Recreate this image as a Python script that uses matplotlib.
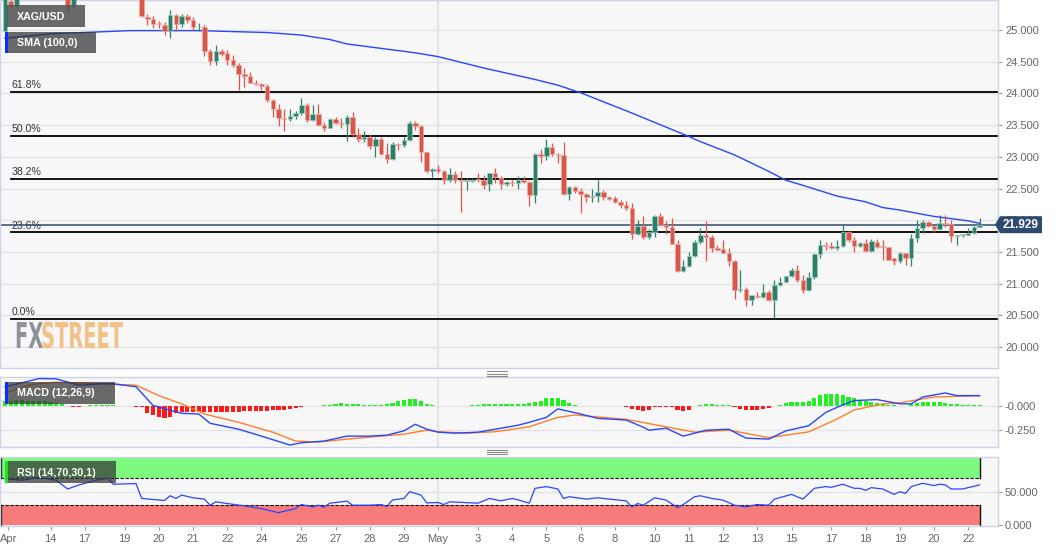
import matplotlib
matplotlib.use('Agg')
import matplotlib.pyplot as plt
import numpy as np
import matplotlib.transforms as mtransforms
from matplotlib.patches import Rectangle, Polygon
from matplotlib.lines import Line2D
from matplotlib.patheffects import AbstractPathEffect

plt.rcParams['font.family'] = ['Liberation Sans', 'DejaVu Sans']

# ---------------- data (4H candles, XAG/USD) ----------------
opens = [24.99, 25.45, 25.40, 25.58, 25.66, 25.74, 25.70, 25.78, 25.85, 25.75,
         25.65, 25.56, 25.39, 25.58, 25.70, 25.84, 25.96, 26.04, 26.15, 26.02,
         25.90, 25.86, 25.80, 25.76, 25.66, 25.21, 25.17, 25.11, 25.08, 24.99,
         25.23, 25.09, 25.22, 25.16, 25.04, 25.05, 24.67, 24.51, 24.67, 24.63,
         24.52, 24.44, 24.31, 24.28, 24.17, 24.15, 24.12, 23.89, 23.75, 23.61,
         23.60, 23.65, 23.69, 23.81, 23.58, 23.67, 23.50, 23.46, 23.60, 23.54,
         23.51, 23.62, 23.36, 23.28, 23.32, 23.17, 23.28, 23.05, 22.97, 23.20,
         23.18, 23.27, 23.54, 23.49, 23.08, 22.78, 22.80, 22.78, 22.63, 22.73,
         22.64, 22.62, 22.62, 22.64, 22.63, 22.57, 22.74, 22.67, 22.57, 22.61,
         22.59, 22.64, 22.61, 22.40, 23.05, 23.02, 23.15, 23.05, 23.03, 22.41,
         22.53, 22.46, 22.41, 22.36, 22.38, 22.45, 22.37, 22.35, 22.28, 22.24,
         22.19, 21.79, 21.91, 21.73, 21.82, 22.06, 21.92, 21.89, 21.63, 21.20,
         21.27, 21.44, 21.65, 21.76, 21.74, 21.56, 21.54, 21.49, 21.36, 20.90,
         20.92, 20.74, 20.81, 20.79, 20.87, 20.74, 20.98, 21.03, 21.12, 21.22,
         21.06, 20.90, 21.11, 21.47, 21.61, 21.59, 21.56, 21.59, 21.81, 21.69,
         21.59, 21.64, 21.52, 21.66, 21.59, 21.57, 21.40, 21.35, 21.48, 21.40,
         21.72, 21.87, 21.97, 21.91, 21.86, 21.96, 21.94, 21.75, 21.77, 21.77,
         21.80, 21.90]
highs = [25.62, 25.47, 25.63, 25.72, 25.80, 25.86, 25.82, 25.92, 25.90, 25.80,
         25.70, 25.60, 25.62, 25.74, 25.88, 26.02, 26.10, 26.23, 26.20, 26.06,
         25.98, 25.95, 25.88, 25.82, 25.70, 25.26, 25.22, 25.14, 25.13, 25.31,
         25.26, 25.26, 25.25, 25.20, 25.11, 25.08, 24.70, 24.76, 24.70, 24.68,
         24.60, 24.48, 24.40, 24.33, 24.21, 24.17, 24.15, 23.91, 23.84, 23.75,
         23.75, 23.73, 23.92, 23.85, 23.82, 23.83, 23.55, 23.61, 23.63, 23.61,
         23.66, 23.71, 23.46, 23.41, 23.36, 23.31, 23.32, 23.22, 23.24, 23.21,
         23.32, 23.56, 23.56, 23.50, 23.08, 22.82, 22.87, 22.79, 22.82, 22.77,
         22.77, 22.66, 22.67, 22.75, 22.71, 22.75, 22.83, 22.70, 22.62, 22.63,
         22.69, 22.69, 22.62, 23.06, 23.12, 23.28, 23.21, 23.06, 23.24, 22.54,
         22.54, 22.51, 22.43, 22.50, 22.63, 22.48, 22.38, 22.38, 22.32, 22.31,
         22.27, 22.00, 22.06, 21.86, 22.08, 22.11, 21.99, 22.03, 21.68, 21.38,
         21.50, 21.68, 21.87, 21.98, 21.77, 21.61, 21.68, 21.56, 21.37, 21.22,
         20.95, 20.76, 20.86, 20.99, 20.90, 21.06, 21.10, 21.12, 21.24, 21.29,
         21.14, 21.19, 21.48, 21.68, 21.66, 21.66, 21.68, 21.94, 21.83, 21.74,
         21.65, 21.70, 21.70, 21.71, 21.69, 21.58, 21.41, 21.50, 21.49, 21.79,
         22.00, 22.00, 21.98, 21.92, 22.08, 22.08, 22.00, 21.77, 21.78, 21.87,
         21.91, 22.03]
lows = [24.97, 25.37, 25.36, 25.54, 25.60, 25.68, 25.62, 25.72, 25.70, 25.60,
        25.52, 25.30, 25.37, 25.55, 25.66, 25.80, 25.90, 26.00, 25.98, 25.84,
        25.80, 25.76, 25.70, 25.62, 25.20, 25.08, 25.03, 25.03, 24.92, 24.87,
        24.98, 25.04, 25.11, 25.00, 24.99, 24.59, 24.45, 24.44, 24.59, 24.45,
        24.42, 24.05, 24.10, 24.16, 24.13, 24.05, 23.87, 23.63, 23.48, 23.40,
        23.57, 23.59, 23.66, 23.55, 23.56, 23.48, 23.41, 23.45, 23.51, 23.46,
        23.25, 23.32, 23.24, 23.24, 23.13, 22.99, 23.03, 22.90, 22.95, 23.11,
        23.15, 23.25, 23.43, 22.92, 22.74, 22.68, 22.74, 22.57, 22.61, 22.59,
        22.13, 22.47, 22.60, 22.61, 22.50, 22.46, 22.58, 22.50, 22.54, 22.54,
        22.50, 22.58, 22.22, 22.27, 22.91, 22.95, 23.01, 22.90, 22.40, 22.32,
        22.43, 22.11, 22.28, 22.29, 22.28, 22.32, 22.32, 22.27, 22.20, 22.16,
        21.70, 21.77, 21.71, 21.71, 21.73, 21.91, 21.78, 21.62, 21.19, 21.19,
        21.26, 21.42, 21.63, 21.35, 21.50, 21.53, 21.48, 21.27, 20.75, 20.87,
        20.64, 20.66, 20.77, 20.78, 20.73, 20.45, 20.97, 21.03, 21.11, 21.03,
        20.85, 20.89, 21.07, 21.41, 21.53, 21.54, 21.53, 21.58, 21.66, 21.50,
        21.58, 21.50, 21.50, 21.56, 21.38, 21.37, 21.29, 21.33, 21.29, 21.28,
        21.66, 21.80, 21.89, 21.81, 21.85, 21.90, 21.66, 21.61, 21.74, 21.76,
        21.79, 21.89]
closes = [25.56, 25.40, 25.58, 25.66, 25.74, 25.70, 25.78, 25.85, 25.75, 25.65,
          25.56, 25.39, 25.58, 25.70, 25.84, 25.96, 26.04, 26.15, 26.02, 25.90,
          25.86, 25.80, 25.76, 25.66, 25.22, 25.17, 25.10, 25.09, 24.99, 25.23,
          25.09, 25.22, 25.16, 25.05, 25.05, 24.67, 24.51, 24.67, 24.62, 24.52,
          24.44, 24.31, 24.28, 24.17, 24.15, 24.12, 23.89, 23.75, 23.61, 23.59,
          23.64, 23.69, 23.81, 23.58, 23.67, 23.50, 23.46, 23.60, 23.54, 23.51,
          23.62, 23.36, 23.28, 23.32, 23.17, 23.28, 23.05, 22.97, 23.20, 23.18,
          23.27, 23.54, 23.49, 23.08, 22.78, 22.80, 22.78, 22.63, 22.73, 22.63,
          22.62, 22.62, 22.64, 22.63, 22.56, 22.74, 22.68, 22.57, 22.61, 22.59,
          22.64, 22.61, 22.40, 23.05, 23.02, 23.15, 23.04, 23.03, 22.41, 22.53,
          22.46, 22.42, 22.36, 22.38, 22.45, 22.37, 22.34, 22.28, 22.24, 22.19,
          21.79, 21.91, 21.73, 21.82, 22.06, 21.92, 21.90, 21.63, 21.20, 21.27,
          21.44, 21.65, 21.76, 21.74, 21.56, 21.53, 21.49, 21.36, 20.90, 20.92,
          20.74, 20.82, 20.79, 20.87, 20.74, 20.98, 21.03, 21.12, 21.22, 21.06,
          20.90, 21.11, 21.47, 21.61, 21.60, 21.56, 21.59, 21.81, 21.69, 21.59,
          21.64, 21.52, 21.67, 21.58, 21.57, 21.38, 21.35, 21.48, 21.40, 21.72,
          21.87, 21.97, 21.91, 21.86, 21.96, 21.94, 21.75, 21.77, 21.78, 21.80,
          21.90, 21.929]

sma_idx = [0, 8, 22, 34, 46, 52, 57, 60, 72, 76, 84, 93, 97, 101, 110, 120, 122,
           128, 134, 137, 140, 146, 151, 154, 157, 163, 169, 171]
sma_val = [24.87, 24.94, 24.99, 24.99, 24.96, 24.92, 24.85, 24.78, 24.64, 24.58,
           24.40, 24.22, 24.13, 24.01, 23.69, 23.32, 23.24, 23.03, 22.77, 22.63,
           22.55, 22.38, 22.29, 22.20, 22.16, 22.06, 21.99, 21.95]

fib_levels = [24.02, 23.33, 22.65, 21.81, 20.44]
fib_labels = ['61.8%', '50.0%', '38.2%', '23.6%', '0.0%']

macd_idx = [0, 6, 9, 13, 17, 19, 23, 26, 31, 34, 36, 41, 45, 50, 52, 56, 60, 64,
            67, 70, 72, 74, 76, 79, 83, 86, 90, 92, 95, 97, 101, 104, 109, 112,
            113, 116, 119, 123, 127, 130, 134, 137, 141, 144, 147, 149, 153, 157,
            159, 161, 165, 167, 171]
macd_val = [0.188, 0.273, 0.27, 0.205, 0.22, 0.22, 0.19, 0.0, -0.079, -0.086,
            -0.18, -0.24, -0.31, -0.40, -0.377, -0.36, -0.31, -0.31, -0.30, -0.257,
            -0.19, -0.24, -0.27, -0.28, -0.27, -0.24, -0.20, -0.17, -0.12, -0.034,
            -0.086, -0.13, -0.147, -0.22, -0.25, -0.23, -0.31, -0.25, -0.24, -0.33,
            -0.34, -0.257, -0.205, -0.07, 0.007, 0.05, 0.06, 0.017, 0.017, 0.086,
            0.127, 0.10, 0.10]
signal_idx = [0, 5, 9, 17, 23, 27, 31, 35, 41, 47, 51, 55, 60, 64, 70, 74, 76, 81,
              86, 92, 97, 100, 109, 115, 121, 127, 134, 141, 146, 149, 154, 157,
              163, 171]
signal_val = [0.127, 0.216, 0.236, 0.22, 0.205, 0.10, 0.017, -0.086, -0.17, -0.27,
              -0.36, -0.37, -0.34, -0.32, -0.29, -0.25, -0.265, -0.28, -0.265,
              -0.215, -0.12, -0.096, -0.14, -0.205, -0.27, -0.25, -0.325, -0.267,
              -0.137, -0.045, 0.017, 0.027, 0.086, 0.10]
hist_val = [0.05, 0.05, 0.055, 0.055, 0.05, 0.05, 0.045, 0.045,
            0.035, 0.03, 0.02,
            -0.01, -0.017, -0.017, -0.01,
            0.01, 0.01, 0.01, 0.008, 0.005,
            -0.005, -0.01, -0.01, -0.015, -0.02,
            -0.08, -0.10, -0.12, -0.125, -0.12, -0.08, -0.07,
            -0.065, -0.065, -0.065, -0.07, -0.068, -0.065, -0.065, -0.063, -0.062,
            -0.062, -0.06, -0.06, -0.06, -0.058,
            -0.055, -0.05, -0.05, -0.045, -0.04, -0.03, -0.02, -0.01,
            -0.003, 0.0, 0.003,
            0.01, 0.02, 0.025, 0.02, 0.015, 0.012, 0.01, 0.01,
            0.008, 0.01, 0.015,
            0.03, 0.045, 0.06, 0.07, 0.07, 0.045, 0.02,
            0.003,
            -0.005, -0.008, -0.01, -0.01, -0.008, -0.005,
            0.002,
            0.01, 0.015, 0.018, 0.018, 0.015, 0.015, 0.018, 0.018, 0.015,
            0.03, 0.04, 0.05,
            0.075, 0.08, 0.08, 0.06,
            0.03, 0.01,
            -0.005, -0.008, -0.008, -0.008, -0.008, -0.008, -0.008, -0.01, -0.015,
            -0.04, -0.05, -0.06, -0.05,
            -0.02, -0.015, -0.015, -0.02,
            -0.05, -0.06, -0.05,
            -0.01,
            0.01, 0.012, 0.012, 0.01, 0.008, 0.003,
            -0.02, -0.04, -0.05, -0.05, -0.05, -0.04, -0.03, -0.01,
            0.01, 0.03, 0.04, 0.04, 0.035, 0.045, 0.08,
            0.11, 0.12, 0.12, 0.12, 0.11, 0.09,
            0.075, 0.06, 0.05, 0.04, 0.03, 0.02, 0.01, 0.005,
            -0.005, -0.005,
            0.02, 0.03, 0.04, 0.04, 0.04, 0.035, 0.03, 0.02,
            0.012, 0.006, 0.004, 0.003, 0.003]

rsi_idx = [0, 3, 6, 9, 11, 13, 16, 18, 19, 23, 24, 28, 29, 30, 31, 33, 35, 36, 37,
           39, 42, 45, 48, 51, 52, 54, 55, 56, 57, 60, 61, 64, 66, 67, 68, 70, 71,
           73, 74, 76, 77, 78, 83, 85, 87, 89, 90, 92, 93, 95, 97, 98, 99, 102,
           104, 106, 109, 110, 111, 112, 114, 116, 118, 119, 121, 122, 124, 126,
           128, 130, 132, 134, 135, 138, 140, 142, 144, 145, 147, 149, 150, 151,
           152, 154, 156, 157, 158, 159, 161, 163, 164, 165, 166, 168, 171]
rsi_val = [69, 67, 71, 67, 54, 60, 67, 70, 61, 62, 40, 37, 44, 40, 45, 41, 39, 30,
           35, 32.5, 29, 25, 19, 25, 31, 27.5, 30, 27, 33, 36, 30, 30, 31, 28, 37.7,
           40, 50, 45, 33.4, 34, 31, 35, 33, 40, 36.5, 40, 38, 33, 55, 57.5, 54, 40,
           42.6, 39, 41, 39, 36.5, 27.5, 32.5, 30, 41, 37.5, 26.5, 31, 42.6, 44, 40,
           37.5, 30, 27.5, 31, 30, 39, 46, 39, 55, 57.5, 56.5, 61, 55, 55, 52, 56,
           54, 46, 50, 47.5, 57.5, 62.4, 59, 61, 60, 54, 54, 60]

tick_pos = [0.6, 8, 14, 21, 27, 33, 39, 45, 52, 58, 64, 70, 76, 83, 89, 95, 101,
            107, 114, 120, 126, 132, 138, 145, 151, 157, 163, 169]
tick_lab = ['Apr', '14', '17', '19', '20', '21', '22', '24', '26', '27', '28', '29',
            'May', '3', '4', '5', '6', '8', '10', '11', '12', '13', '15', '17', '18',
            '19', '20', '22']

# ---------------- figure ----------------
W, H = 1060, 550
fig = plt.figure(figsize=(W / 100, H / 100), dpi=100, facecolor='white')
pixT = mtransforms.Affine2D().scale(1 / W, -1 / H).translate(0, 1) + fig.transFigure

def add_ax(x0, y0, x1, y1):
    return fig.add_axes([x0 / W, 1 - y1 / H, (x1 - x0) / W, (y1 - y0) / H])

ax = add_ax(0, 0, 998, 368)
axm = add_ax(0, 377, 998, 447)
axr = add_ax(0, 457, 998, 526)

XL = (-4.9 / 5.70, (998 - 4.9) / 5.70)
SPINE = '#cdd3e6'
BG = '#f7f7f7'
GRID = '#e3e3e3'
for a in (ax, axm, axr):
    a.set_facecolor(BG)
    a.set_xlim(*XL)
    for s in a.spines.values():
        s.set_color(SPINE)
        s.set_linewidth(1.0)
    a.yaxis.set_ticks_position('right')
    a.tick_params(axis='y', left=False, labelleft=False, right=True, labelright=True,
                  direction='out', length=3, width=0.8, color='#9a9a9a',
                  labelcolor='#666666', labelsize=8, pad=2)
    a.tick_params(axis='x', bottom=False, labelbottom=False)
    a.axvline(tick_pos[tick_lab.index('May')], color=GRID, lw=1.4, zorder=0)

# ---- main price panel ----
ax.set_ylim(19.669, 25.473)
yt = np.arange(20.0, 25.01, 0.5)
ax.set_yticks(yt)
ax.set_yticklabels([f'{v:.3f}' for v in yt])
for v in yt:
    ax.axhline(v, color=GRID, lw=1.0, zorder=0)

for lvl, lab in zip(fib_levels, fib_labels):
    ax.axhline(lvl, xmin=11 / 998, xmax=1, color='black', lw=1.3, zorder=1)
    ax.annotate(lab, xy=(12 / 998, lvl), xycoords=('axes fraction', 'data'),
                xytext=(0, 1.2), textcoords='offset points', fontsize=7.6,
                color='#333333', va='bottom', ha='left', zorder=1)

last_price = closes[-1]
PRICE_C = '#2d4a70'
ax.axhline(last_price, color=PRICE_C, lw=1.1, zorder=1.5)

ax.plot(sma_idx, sma_val, color='#2846ff', lw=1.0, zorder=2)

idx = np.arange(len(closes))
o = np.array(opens); c = np.array(closes)
hi = np.array(highs); lo = np.array(lows)
up = c >= o
RED, GREEN = '#d9574a', '#2e7f68'
RED_E, GREEN_E = '#eeaaa2', '#a3cdbf'
cols = np.where(up, GREEN, RED)
ecols = np.where(up, GREEN_E, RED_E)
ax.vlines(idx, lo, hi, colors=cols, lw=0.9, zorder=3)
bottoms = np.minimum(o, c)
heights = np.maximum(np.abs(c - o), 0.015)
ax.bar(idx, heights, bottom=bottoms, width=0.8, color=cols, edgecolor=ecols,
       linewidth=0.5, zorder=4)

# current price label (covers the axis label behind it, as in the source)
bt = mtransforms.blended_transform_factory(ax.transAxes, ax.transData)
hh = 8.5 / 63.4
poly = Polygon([(995 / 998, last_price), (1000 / 998, last_price + hh),
                (1042 / 998, last_price + hh), (1042 / 998, last_price - hh),
                (1000 / 998, last_price - hh)], closed=True, transform=bt,
               facecolor=PRICE_C, edgecolor='none', clip_on=False, zorder=6)
ax.add_patch(poly)
ax.text(1021 / 998, last_price, f'{last_price:.3f}', transform=bt, color='white',
        fontsize=8.5, fontweight='bold', ha='center', va='center', clip_on=False,
        zorder=7)

# ---- MACD panel ----
axm.set_ylim(-0.42, 0.2885)
axm.set_yticks([0.0, -0.25])
axm.set_yticklabels(['-0.000', '-0.250'])
for v in (0.0, -0.25):
    axm.axhline(v, color=GRID, lw=1.0, zorder=0)
hv = np.array(hist_val)
axm.bar(idx, hv, width=0.72, color=np.where(hv >= 0, '#22f022', '#ff1a1a'),
        linewidth=0, zorder=2)
axm.plot(signal_idx, signal_val, color='#ff7f27', lw=1.0, zorder=3)
axm.plot(macd_idx, macd_val, color='#2846ff', lw=1.0, zorder=4)

# ---- RSI panel ----
axr.set_ylim(-0.74, 101.3)
axr.set_yticks([50, 0])
axr.set_yticklabels(['50.000', '0.000'])
axr.axhline(50, color=GRID, lw=1.0, zorder=0)
x_end = idx[-1]
axr.fill_between([XL[0], x_end], 70, 100, color='#7efb7e', lw=0, zorder=1)
axr.fill_between([XL[0], x_end], 0, 30, color='#f87b7b', lw=0, zorder=1)
for lv in (70, 30):
    axr.plot([XL[0], x_end], [lv, lv], color='#111111', lw=0.8,
             dashes=(3, 1.5), zorder=2)
for (a0, a1) in ((70, 100), (0, 30)):
    axr.plot([x_end, x_end], [a0, a1], color='#111111', lw=1.0, zorder=2)
    axr.plot([XL[0] + 0.15, XL[0] + 0.15], [a0, a1], color='#111111', lw=1.0, zorder=2)
axr.plot(rsi_idx, rsi_val, color='#2846ff', lw=0.9, zorder=3)
axr.set_xticks(tick_pos)
axr.set_xticklabels(tick_lab)
axr.tick_params(axis='x', bottom=True, labelbottom=True, direction='out', length=3,
                width=0.8, color='#9a9a9a', labelcolor='#666666', labelsize=8, pad=3)

# ---- overlay label boxes ----
BOX = (0.2, 0.2, 0.2, 0.72)
def label_box(x0, y0, x1, y1, text, bar=None):
    fig.add_artist(Rectangle((x0, y0), x1 - x0, y1 - y0, transform=pixT,
                             facecolor=BOX, edgecolor='none', zorder=5))
    if bar is not None:
        fig.add_artist(Rectangle((x0, y0), 2.5, y1 - y0, transform=pixT,
                                 facecolor=bar, edgecolor='none', zorder=6))
    fig.text(x0 + 12 if bar is not None else x0 + 10, (y0 + y1) / 2 + 0.5, text,
             transform=pixT, color='white', fontsize=7.7, fontweight='bold',
             ha='left', va='center', zorder=7)

label_box(7, 5, 85, 27, 'XAG/USD')
label_box(5, 32, 96, 53, 'SMA (100,0)', bar='#0a2dff')
label_box(5, 382, 115, 404, 'MACD (12,26,9)', bar='#0a2dff')
label_box(5, 461, 116, 483, 'RSI (14,70,30,1)', bar='#19e619')

# panel handles
for yy in (371.3, 373.5, 375.7, 450.0, 452.2, 454.4):
    fig.add_artist(Line2D([487, 507], [yy, yy], transform=pixT, color='#8a8a8a',
                          lw=0.8, zorder=5))

# ---- FXSTREET watermark (real text, stretched upward from its baseline) ----
class Stretch(AbstractPathEffect):
    def __init__(self, sx, sy):
        super().__init__()
        self.sx, self.sy = sx, sy
    def draw_path(self, renderer, gc, tpath, affine, rgbFace=None):
        renderer.draw_path(gc, tpath,
                           mtransforms.Affine2D().scale(self.sx, self.sy) + affine,
                           rgbFace)

for txt, xp, col in (('FX', 15, '#8d919a'), ('STREET', 41, '#f1c187')):
    fig.text(xp, 348, txt, transform=pixT, fontsize=14, fontweight='bold',
             family='DejaVu Sans', color=col, ha='left', va='baseline',
             path_effects=[Stretch(1.0, 1.83)], zorder=4)

fig.savefig('out.png', dpi=100, facecolor='white')
